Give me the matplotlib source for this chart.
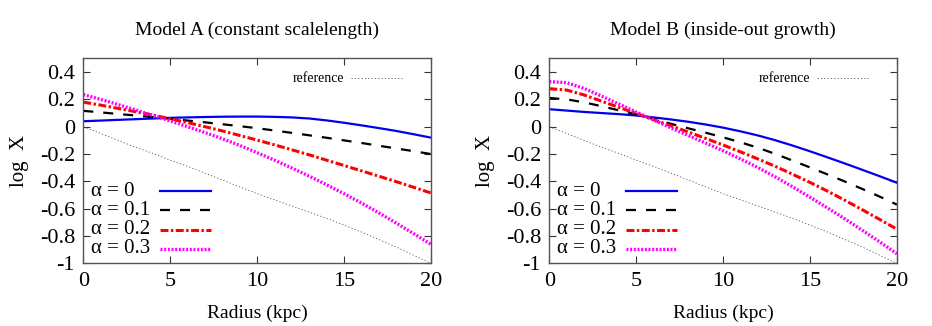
import numpy as np
import matplotlib
matplotlib.use('Agg')
import matplotlib.pyplot as plt

plt.rcParams['font.family'] = ['Liberation Serif', 'DejaVu Serif']
plt.rcParams['axes.unicode_minus'] = False

# radius grid (kpc)
radius = np.arange(0, 21, 1)

# reference line (same in both panels)
ref = [0.0, -0.05, -0.10, -0.15, -0.195, -0.245, -0.29, -0.34, -0.39, -0.44, -0.49,
       -0.535, -0.58, -0.625, -0.67, -0.72, -0.77, -0.825, -0.88, -0.94, -1.0]

# Model A (constant scalelength)
a_alpha0 = [0.040, 0.045, 0.050, 0.055, 0.060, 0.065, 0.068, 0.071, 0.073, 0.074, 0.074,
            0.072, 0.068, 0.060, 0.046, 0.029, 0.010, -0.010, -0.031, -0.055, -0.080]
a_alpha1 = [0.116, 0.105, 0.093, 0.082, 0.070, 0.058, 0.045, 0.032, 0.018, 0.004, -0.011,
            -0.028, -0.045, -0.063, -0.081, -0.100, -0.119, -0.139, -0.159, -0.179, -0.200]
a_alpha2 = [0.180, 0.158, 0.134, 0.110, 0.085, 0.058, 0.030, 0.000, -0.031, -0.064, -0.098,
            -0.133, -0.169, -0.206, -0.245, -0.284, -0.323, -0.362, -0.402, -0.443, -0.485]
a_alpha3 = [0.235, 0.200, 0.162, 0.123, 0.083, 0.042, 0.000, -0.043, -0.088, -0.137, -0.190,
            -0.245, -0.302, -0.362, -0.425, -0.490, -0.558, -0.630, -0.705, -0.782, -0.860]

# Model B (inside-out growth)
b_alpha0 = [0.128, 0.118, 0.108, 0.100, 0.092, 0.082, 0.068, 0.053, 0.036, 0.016, -0.007,
            -0.034, -0.064, -0.099, -0.138, -0.180, -0.224, -0.269, -0.315, -0.362, -0.410]
b_alpha1 = [0.210, 0.200, 0.178, 0.150, 0.120, 0.090, 0.056, 0.021, -0.012, -0.044, -0.078,
            -0.114, -0.154, -0.199, -0.248, -0.298, -0.349, -0.401, -0.455, -0.511, -0.570]
b_alpha2 = [0.278, 0.268, 0.232, 0.187, 0.142, 0.097, 0.051, 0.006, -0.039, -0.086, -0.134,
            -0.184, -0.236, -0.290, -0.348, -0.408, -0.471, -0.538, -0.607, -0.678, -0.750]
b_alpha3 = [0.330, 0.322, 0.280, 0.224, 0.166, 0.107, 0.049, -0.009, -0.065, -0.120, -0.176,
            -0.236, -0.299, -0.367, -0.440, -0.516, -0.594, -0.674, -0.757, -0.842, -0.930]

labels = ['α = 0', 'α = 0.1', 'α = 0.2', 'α = 0.3']
titles = ['Model A (constant scalelength)', 'Model B (inside-out growth)']
yticks = [-1, -0.8, -0.6, -0.4, -0.2, 0, 0.2, 0.4]
yticklabels = ['-1', '-0.8', '-0.6', '-0.4', '-0.2', '0', '0.2', '0.4']

styles = [
    dict(color='#0000ee', lw=1.6),
    dict(color='black', lw=1.6, dashes=(4.5, 4.5)),
    dict(color='#ff0000', lw=2.2, dashes=(2.6, 0.8, 0.8, 0.8)),
    dict(color='#ff00ff', lw=2.4, dashes=(0.6, 0.5)),
]
ref_style = dict(color='#555555', lw=0.6, dashes=(1.5, 2.5))

fig = plt.figure(figsize=(9.32, 3.26), dpi=100)
axes = [fig.add_axes([0.0894, 0.192, 0.373, 0.629]),
        fig.add_axes([0.5894, 0.192, 0.373, 0.629])]

panels = [[a_alpha0, a_alpha1, a_alpha2, a_alpha3],
          [b_alpha0, b_alpha1, b_alpha2, b_alpha3]]

# legend rows (axes fraction), gnuplot-style: text left, sample on right
row_y = [0.353, 0.260, 0.165, 0.072]

for ax, series, title in zip(axes, panels, titles):
    ax.plot(radius, ref, **ref_style)
    for y, st in zip(series, styles):
        ax.plot(radius, y, **st)

    # key
    for yy, st, lab in zip(row_y, styles, labels):
        ax.text(0.022, yy, lab, transform=ax.transAxes, fontsize=15,
                va='center', ha='left')
        ax.plot([0.22, 0.366], [yy, yy], transform=ax.transAxes, **st)
    ax.text(0.601, 0.904, 'reference', transform=ax.transAxes, fontsize=10,
            va='center', ha='left')
    ax.plot([0.77, 0.92], [0.904, 0.904], transform=ax.transAxes, **ref_style)

    ax.set_xlim(0, 20)
    ax.set_ylim(-1, 0.5)
    ax.set_xticks([0, 5, 10, 15, 20])
    ax.set_yticks(yticks)
    ax.set_yticklabels(yticklabels)
    ax.tick_params(direction='in', top=True, right=True, labelsize=16,
                   length=5, width=0.8, color='#333333', pad=6)
    for sp in ax.spines.values():
        sp.set_color('#555555')
        sp.set_linewidth(1.0)
    ax.set_title(title, fontsize=14, pad=17)
    ax.set_xlabel('Radius (kpc)', fontsize=14, labelpad=10)
    ax.set_ylabel('log  X', fontsize=15, labelpad=8)

fig.savefig('out.png', dpi=100)
